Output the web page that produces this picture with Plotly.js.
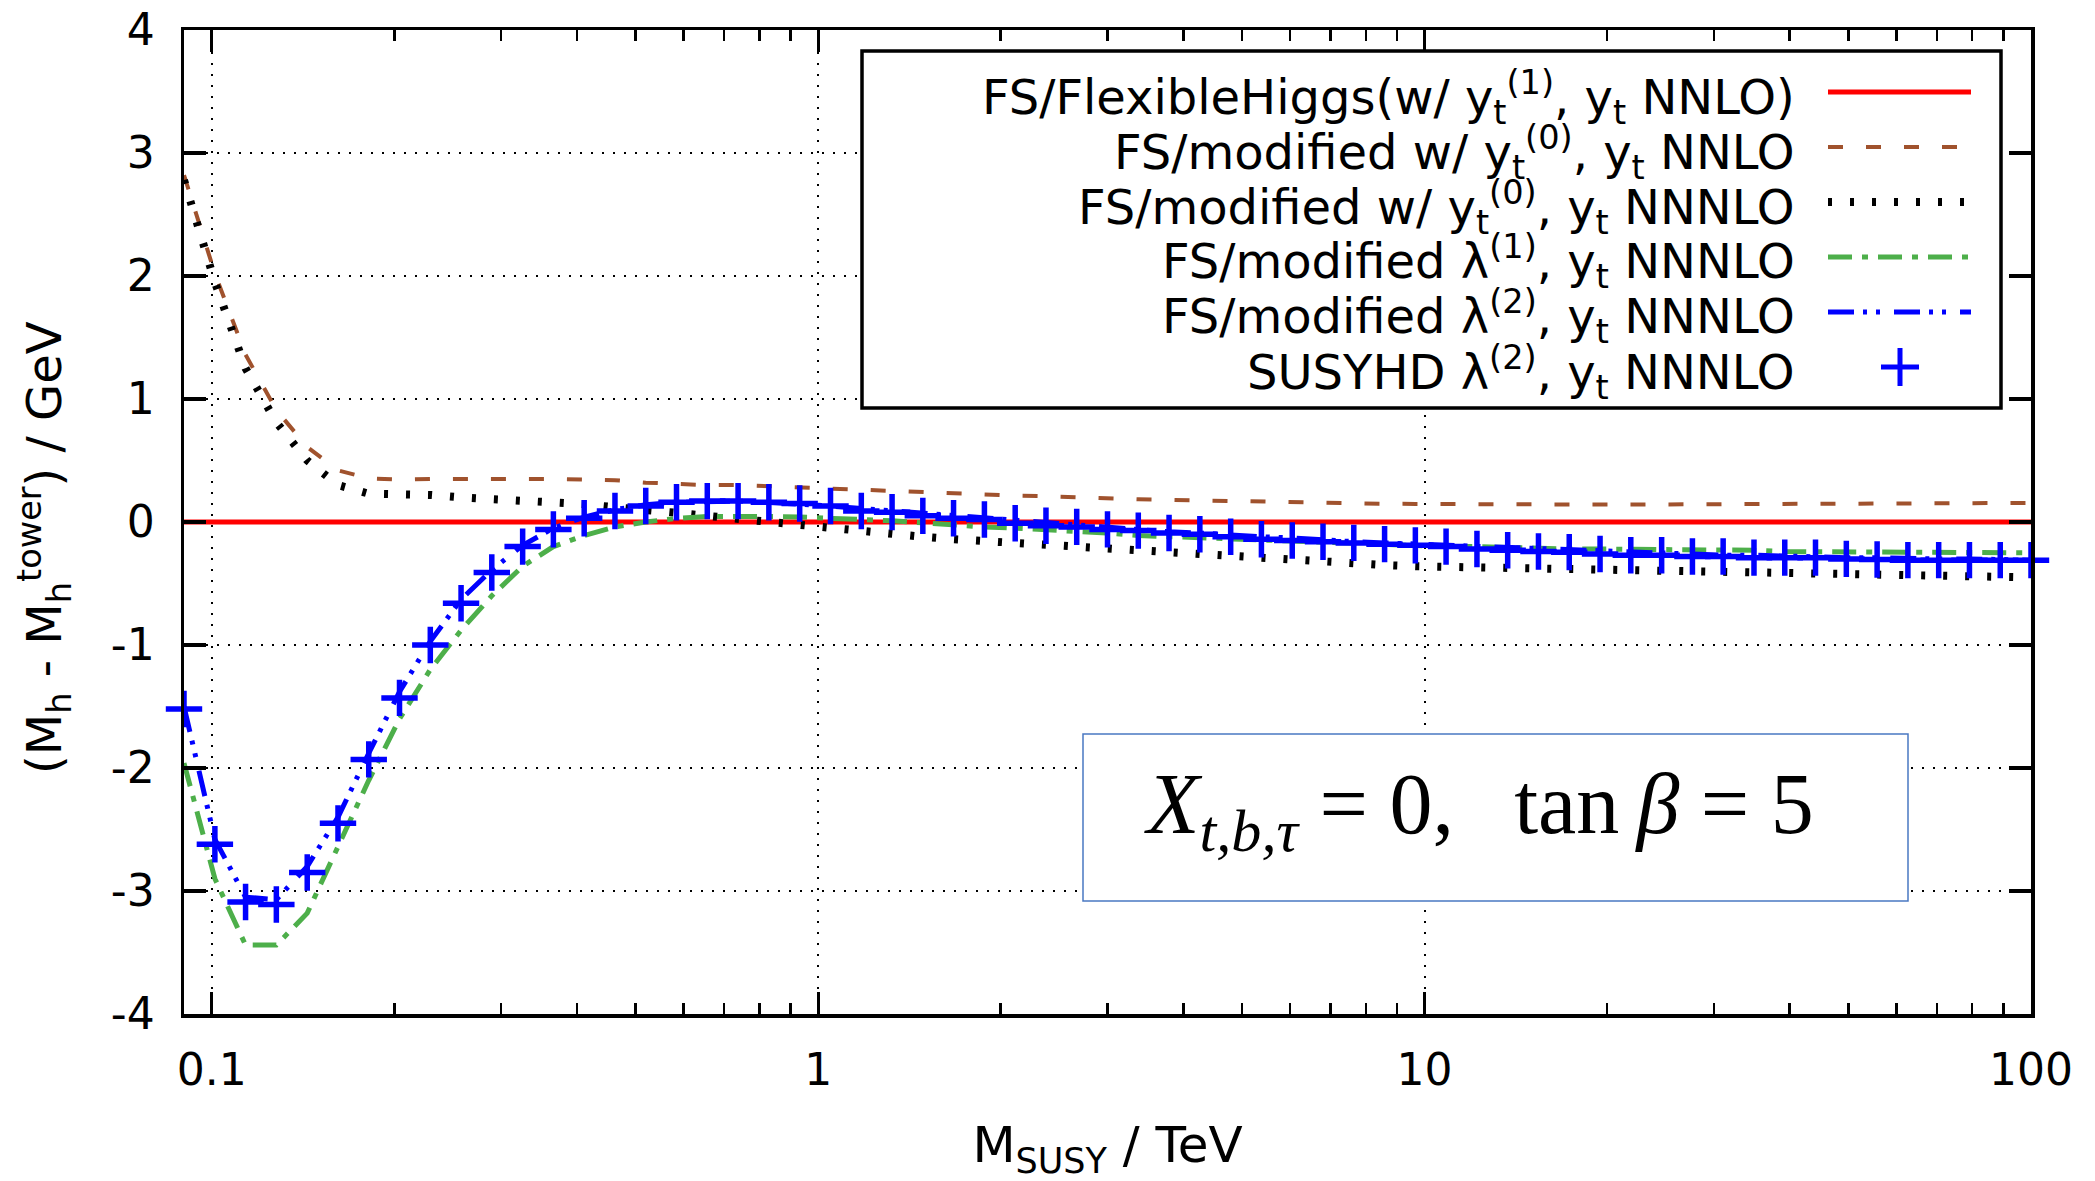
<!DOCTYPE html>
<html>
<head>
<meta charset="utf-8">
<script src="https://cdn.plot.ly/plotly-3.0.1.min.js"></script>
<style>html,body{margin:0;padding:0;background:#fff;}#chart{width:2095px;height:1181px;}</style>
</head>
<body>
<div id="chart"></div>
<script>
// M_SUSY grid (TeV)
const xTeV = [0.09, 0.1012, 0.1137, 0.1278, 0.1437, 0.1615, 0.1815, 0.204, 0.2293, 0.2577,
  0.2896, 0.3256, 0.3659, 0.4113, 0.4623, 0.5196, 0.584, 0.6564, 0.7378, 0.8293,
  0.9322, 1.048, 1.178, 1.324, 1.488, 1.672, 1.88, 2.113, 2.375, 2.669,
  3.0, 3.372, 3.79, 4.26, 4.789, 5.382, 6.05, 6.8, 7.643, 8.591,
  9.656, 10.85, 12.2, 13.71, 15.41, 17.32, 19.47, 21.88, 24.6, 27.65,
  31.07, 34.93, 39.26, 44.12, 49.6, 55.75, 62.66, 70.43, 79.16, 88.98, 100];

// (M_h - M_h^tower) / GeV for each series
const flexibleHiggs = [0,0,0,0,0,0,0,0,0,0, 0,0,0,0,0,0,0,0,0,0, 0,0,0,0,0,0,0,0,0,0,
  0,0,0,0,0,0,0,0,0,0, 0,0,0,0,0,0,0,0,0,0, 0,0,0,0,0,0,0,0,0,0, 0];
const modYt0NNLO = [2.82, 2.02, 1.36, 0.91, 0.61, 0.42, 0.355, 0.345, 0.35, 0.35,
  0.355, 0.35, 0.35, 0.345, 0.34, 0.32, 0.31, 0.30, 0.30, 0.29,
  0.28, 0.27, 0.26, 0.25, 0.24, 0.23, 0.22, 0.215, 0.21, 0.20,
  0.19, 0.185, 0.18, 0.175, 0.17, 0.163, 0.157, 0.153, 0.15, 0.148,
  0.147, 0.145, 0.143, 0.142, 0.142, 0.142, 0.142, 0.142, 0.143, 0.143,
  0.144, 0.145, 0.146, 0.147, 0.148, 0.149, 0.15, 0.151, 0.152, 0.153, 0.155];
const modYt0NNNLO = [2.78, 1.95, 1.25, 0.81, 0.5, 0.3, 0.23, 0.23, 0.22, 0.2,
  0.19, 0.175, 0.16, 0.145, 0.12, 0.09, 0.075, 0.05, 0.025, -0.01,
  -0.03, -0.05, -0.075, -0.1, -0.12, -0.14, -0.155, -0.17, -0.2, -0.215,
  -0.23, -0.245, -0.26, -0.27, -0.29, -0.3, -0.31, -0.33, -0.34, -0.35,
  -0.36, -0.365, -0.37, -0.375, -0.38, -0.385, -0.39, -0.395, -0.4, -0.405,
  -0.41, -0.415, -0.42, -0.425, -0.43, -0.435, -0.44, -0.44, -0.445, -0.45, -0.45];
const modLambda1 = [-1.96, -2.9, -3.44, -3.44, -3.18, -2.65, -2.1, -1.6, -1.2, -0.88,
  -0.6, -0.36, -0.2, -0.11, -0.04, 0.0, 0.03, 0.045, 0.05, 0.045,
  0.04, 0.035, 0.02, 0.01, -0.01, -0.03, -0.04, -0.05, -0.06, -0.07,
  -0.09, -0.11, -0.12, -0.13, -0.14, -0.15, -0.16, -0.17, -0.18, -0.18,
  -0.19, -0.2, -0.2, -0.21, -0.21, -0.22, -0.22, -0.22, -0.23, -0.23,
  -0.23, -0.23, -0.24, -0.24, -0.24, -0.24, -0.24, -0.245, -0.245, -0.245, -0.25];
const modLambda2 = [-1.5, -2.58, -3.05, -3.07, -2.8, -2.4, -1.88, -1.38, -0.97, -0.63,
  -0.39, -0.19, -0.05, 0.04, 0.1, 0.14, 0.16, 0.17, 0.17, 0.16,
  0.15, 0.13, 0.11, 0.09, 0.07, 0.05, 0.03, 0.01, -0.01, -0.03,
  -0.05, -0.06, -0.08, -0.09, -0.11, -0.12, -0.13, -0.15, -0.16, -0.17,
  -0.18, -0.19, -0.2, -0.21, -0.22, -0.23, -0.24, -0.25, -0.25, -0.26,
  -0.27, -0.27, -0.28, -0.28, -0.29, -0.29, -0.3, -0.3, -0.3, -0.31, -0.31];
const susyhd = [-1.52, -2.62, -3.09, -3.11, -2.85, -2.45, -1.93, -1.43, -1.0, -0.66,
  -0.41, -0.2, -0.06, 0.03, 0.09, 0.13, 0.16, 0.17, 0.17, 0.16,
  0.15, 0.13, 0.09, 0.08, 0.05, 0.03, 0.02, -0.01, -0.03, -0.04,
  -0.06, -0.07, -0.09, -0.1, -0.12, -0.14, -0.15, -0.16, -0.17, -0.18,
  -0.19, -0.2, -0.22, -0.23, -0.24, -0.245, -0.26, -0.27, -0.27, -0.28,
  -0.28, -0.29, -0.29, -0.29, -0.3, -0.305, -0.31, -0.31, -0.31, -0.31, -0.31];

const seriesNames = [
  'FS/FlexibleHiggs(w/ y<sub>t</sub><sup>(1)</sup>, y<sub>t</sub> NNLO)',
  'FS/modified w/ y<sub>t</sub><sup>(0)</sup>, y<sub>t</sub> NNLO',
  'FS/modified w/ y<sub>t</sub><sup>(0)</sup>, y<sub>t</sub> NNNLO',
  'FS/modified λ<sup>(1)</sup>, y<sub>t</sub> NNNLO',
  'FS/modified λ<sup>(2)</sup>, y<sub>t</sub> NNNLO',
  'SUSYHD λ<sup>(2)</sup>, y<sub>t</sub> NNNLO'
];
const xTickVals = [0.1, 1, 10, 100];
const xTickText = ['0.1', '1', '10', '100'];
const xMinorVals = [0.2,0.3,0.4,0.5,0.6,0.7,0.8,0.9, 2,3,4,5,6,7,8,9, 20,30,40,50,60,70,80,90];
const yTickVals = [-4, -3, -2, -1, 0, 1, 2, 3, 4];
const yTickText = ['-4', '-3', '-2', '-1', '0', '1', '2', '3', '4'];
const xTitle = 'M<sub>SUSY</sub> / TeV';
const yTitle = '(M<sub>h</sub> - M<sub>h</sub><sup>tower</sup>) / GeV';
const boxLabel = '<i>X</i><sub><i>t,b,τ</i></sub>\u2005=\u20050,\u2002\u2009tan\u2009<i>β</i>\u2005=\u20055';

// styles
const FONT = 'DejaVu Sans';
const styles = [
  {color: '#ff0000', width: 5, dash: 'solid'},
  {color: '#a0522d', width: 4, dash: '15px,23px'},
  {color: '#000000', width: 8, dash: '4px,18px'},
  {color: '#4daf4a', width: 5, dash: '24px,10px,6px,10px'},
  {color: '#0000ff', width: 5, dash: '26px,9px,4px,9px,4px,14px'}
];
const ySeries = [flexibleHiggs, modYt0NNLO, modYt0NNNLO, modLambda1, modLambda2];

const traces = ySeries.map((ys, i) => ({
  type: 'scatter', mode: 'lines', x: xTeV, y: ys, name: seriesNames[i],
  line: {color: styles[i].color, width: styles[i].width, dash: styles[i].dash},
  showlegend: false, hoverinfo: 'skip'
}));
traces.push({
  type: 'scatter', mode: 'markers', x: xTeV, y: susyhd, name: seriesNames[5],
  marker: {symbol: 'cross-thin', size: 26, color: '#0000ff', line: {color: '#0000ff', width: 5.5}},
  cliponaxis: false, showlegend: false, hoverinfo: 'skip'
});

// pixel -> paper helpers (plot area 184..2031 x 30..1014)
const L = 184, R = 2031, T = 30, B = 1014;
const px = X => (X - L) / (R - L);
const py = Y => (B - Y) / (B - T);

const shapes = [];
const annotations = [];
// legend box
shapes.push({type: 'rect', xref: 'paper', yref: 'paper', x0: px(862), x1: px(2001), y0: py(408), y1: py(51),
  line: {color: '#000', width: 3.5}, fillcolor: '#fff', layer: 'above'});
const rowY = [92, 147, 202, 257, 312, 367];
for (let i = 0; i < 6; i++) {
  annotations.push({xref: 'paper', yref: 'paper', x: px(1797), y: py(rowY[i] + 5), xanchor: 'right', yanchor: 'middle',
    text: seriesNames[i], showarrow: false, font: {family: FONT, size: 48, color: '#000'}});
  if (i < 5) {
    shapes.push({type: 'line', xref: 'paper', yref: 'paper', x0: px(1828), x1: px(1971), y0: py(rowY[i]), y1: py(rowY[i]),
      line: {color: styles[i].color, width: styles[i].width, dash: styles[i].dash}, layer: 'above'});
  } else {
    const cx = 1900, cy = rowY[i], h = 19;
    shapes.push({type: 'path', xref: 'paper', yref: 'paper',
      path: `M${px(cx - h)},${py(cy)} L${px(cx + h)},${py(cy)} M${px(cx)},${py(cy - h)} L${px(cx)},${py(cy + h)}`,
      line: {color: '#0000ff', width: 5}, layer: 'above'});
  }
}
// parameter box
shapes.push({type: 'rect', xref: 'paper', yref: 'paper', x0: px(1083), x1: px(1908), y0: py(901), y1: py(734),
  line: {color: '#4a78c2', width: 1.5}, fillcolor: '#fff', layer: 'above'});
annotations.push({xref: 'paper', yref: 'paper', x: px(1479), y: py(810), xanchor: 'center', yanchor: 'middle',
  text: boxLabel, showarrow: false, font: {family: 'Liberation Serif', size: 86, color: '#000'}});
// y-axis title
annotations.push({xref: 'paper', yref: 'paper', x: px(44), y: py(548), xanchor: 'center', yanchor: 'middle',
  textangle: -90, text: yTitle, showarrow: false, font: {family: FONT, size: 48, color: '#000'}});

const layout = {
  width: 2095, height: 1181,
  margin: {l: L, r: 2095 - R, t: T, b: 1181 - B, pad: 0},
  paper_bgcolor: '#fff', plot_bgcolor: '#fff',
  font: {family: FONT, size: 45, color: '#000'},
  showlegend: false,
  xaxis: {
    type: 'log', range: [Math.log10(0.09), 2], autorange: false,
    tickmode: 'array', tickvals: xTickVals, ticktext: xTickText,
    ticks: 'inside', ticklen: 22, tickwidth: 3, tickcolor: '#000',
    minor: {tickmode: 'array', tickvals: xMinorVals, ticks: 'inside', ticklen: 11, tickwidth: 2.5, tickcolor: '#000', showgrid: false},
    showline: true, linecolor: '#000', linewidth: 3.5, mirror: 'allticks',
    showgrid: true, gridcolor: '#000', gridwidth: 2, griddash: '2px,9px',
    zeroline: false, automargin: false,
    tickfont: {family: FONT, size: 44, color: '#000'}, ticklabelstandoff: 15,
    title: {text: xTitle, font: {family: FONT, size: 50, color: '#000'}, standoff: 38}
  },
  yaxis: {
    range: [-4, 4], autorange: false,
    tickmode: 'array', tickvals: yTickVals, ticktext: yTickText,
    ticks: 'inside', ticklen: 22, tickwidth: 4, tickcolor: '#000',
    showline: true, linecolor: '#000', linewidth: 3.5, mirror: 'allticks',
    showgrid: true, gridcolor: '#000', gridwidth: 2, griddash: '2px,9px',
    zeroline: false, automargin: false,
    tickfont: {family: FONT, size: 44, color: '#000'}, ticklabelstandoff: 17
  },
  shapes: shapes,
  annotations: annotations
};

Plotly.newPlot('chart', traces, layout, {staticPlot: true, displayModeBar: false});
</script>
</body>
</html>
